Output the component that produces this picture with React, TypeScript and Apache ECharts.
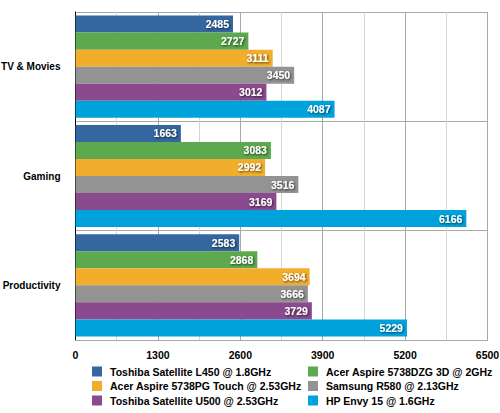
import React, { useEffect, useRef } from "react";
import * as echarts from "echarts";

const categories = ["TV & Movies", "Gaming", "Productivity"];
const seriesNames = [
  "Toshiba Satellite L450 @ 1.8GHz",
  "Acer Aspire 5738DZG 3D @ 2GHz",
  "Acer Aspire 5738PG Touch @ 2.53GHz",
  "Samsung R580 @ 2.13GHz",
  "Toshiba Satellite U500 @ 2.53GHz",
  "HP Envy 15 @ 1.6GHz",
];
const toshibaL450 = [2485, 1663, 2583];
const acerDZG = [2727, 3083, 2868];
const acerPG = [3111, 2992, 3694];
const samsungR580 = [3450, 3516, 3666];
const toshibaU500 = [3012, 3169, 3729];
const hpEnvy = [4087, 6166, 5229];
const seriesValues = [toshibaL450, acerDZG, acerPG, samsungR580, toshibaU500, hpEnvy];
const colors = ["#35669F", "#5DA94E", "#F1AE2D", "#939393", "#8A4A8D", "#00A2DB"];
const xTicks = { min: 0, max: 6500, step: 1300 };

const FONT = "'Liberation Sans', Arial, sans-serif";

export default function App() {
  const ref = useRef<HTMLDivElement>(null);
  useEffect(() => {
    if (!ref.current) return;
    const chart = echarts.init(ref.current, undefined, { renderer: "svg" });
    const textBase = { fontFamily: FONT, fontWeight: "bold" as const, fontSize: 10.5, color: "#000" };
    chart.setOption({
      animation: false,
      grid: { left: 75.5, right: 12.5, top: 12, bottom: 73, containLabel: false, outerBoundsMode: "none" },
      xAxis: {
        type: "value",
        min: xTicks.min,
        max: xTicks.max,
        interval: xTicks.step,
        axisLine: { show: true, lineStyle: { color: "#a8a8a8", width: 1 } },
        axisTick: { show: false },
        axisLabel: { ...textBase, margin: 9, formatter: (v: number) => String(v) },
        splitLine: { show: true, lineStyle: { color: "#a8a8a8", width: 1 } },
        minorTick: { show: false, splitNumber: 2 },
        minorSplitLine: { show: true, lineStyle: { color: "#d6d6d6", width: 1 } },
      },
      yAxis: {
        type: "category",
        data: categories,
        inverse: true,
        axisLine: { show: true, lineStyle: { color: "#000", width: 1 } },
        axisTick: { show: false },
        axisLabel: { ...textBase, fontSize: 10, margin: 15 },
        splitLine: { show: true, lineStyle: { color: "#a8a8a8", width: 1 } },
      },
      legend: [
        {
          orient: "vertical",
          left: 92,
          top: 366,
          itemWidth: 10,
          itemHeight: 10,
          itemGap: 3.5,
          icon: "rect",
          padding: 0,
          data: [seriesNames[0], seriesNames[2], seriesNames[4]],
          textStyle: { ...textBase, padding: [0, 0, 0, 3] },
        },
        {
          orient: "vertical",
          left: 308,
          top: 366,
          itemWidth: 10,
          itemHeight: 10,
          itemGap: 3.5,
          icon: "rect",
          padding: 0,
          data: [seriesNames[1], seriesNames[3], seriesNames[5]],
          textStyle: { ...textBase, padding: [0, 0, 0, 3] },
        },
      ],
      series: seriesNames.map((name, i) => ({
        name,
        type: "bar",
        data: seriesValues[i],
        barGap: "0%",
        barCategoryGap: "6.5%",
        itemStyle: { color: colors[i] },
        label: {
          show: true,
          position: "insideRight",
          distance: 4,
          color: "#fff",
          fontFamily: FONT,
          fontWeight: "bold",
          fontSize: 10.5,
          textShadowColor: "rgba(0,0,0,0.7)",
          textShadowBlur: 2,
          textShadowOffsetX: 1,
          textShadowOffsetY: 1,
        },
      })),
    });
    return () => chart.dispose();
  }, []);
  return <div ref={ref} style={{ position: "absolute", left: 0, top: 0, width: 500, height: 413 }} />;
}
